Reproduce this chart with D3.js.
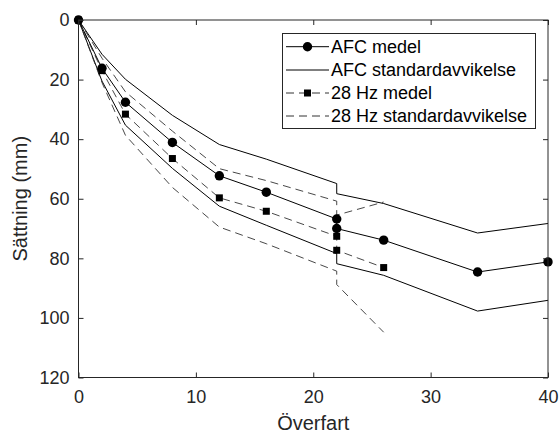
<!DOCTYPE html>
<html><head><meta charset="utf-8">
<script src="https://cdnjs.cloudflare.com/ajax/libs/d3/7.8.5/d3.min.js"></script>
<style>body{margin:0;background:#fff;}svg{display:block;}</style>
</head><body>
<svg id="c" width="560" height="434"></svg>
<script>
// AFC series
const afcX      = [0, 2, 4, 8, 12, 16, 22, 22, 26, 34, 40];
const afcMean   = [0, 16.2, 27.6, 41.1, 52.3, 57.8, 66.8, 70.0, 73.9, 84.6, 81.2];
const afcUpper  = [0, 11.5, 19.9, 32.0, 41.8, 46.7, 54.9, 58.3, 61.6, 71.5, 68.3];
const afcLower  = [0, 20.5, 35.3, 49.8, 62.5, 68.9, 78.4, 81.8, 85.7, 97.7, 94.1];
// 28 Hz series
const hzX       = [0, 2, 4, 8, 12, 16, 22, 22, 26];
const hzMean    = [0, 17.0, 31.6, 46.5, 59.7, 64.2, 72.6, 77.3, 83.1];
const hzUpper   = [0, 12.8, 24.1, 37.3, 49.9, 53.9, 60.8, 65.5, 61.1];
const hzLower   = [0, 21.0, 38.7, 56.2, 69.5, 75.1, 84.3, 88.8, 104.8];
const xTicks = [0, 10, 20, 30, 40];
const yTicks = [0, 20, 40, 60, 80, 100, 120];
const legendLabels = ["AFC medel", "AFC standardavvikelse", "28 Hz medel", "28 Hz standardavvikelse"];

const svg = d3.select("#c");
const L = 78.5, R = 548, T = 20, B = 377.5;
const x = d3.scaleLinear().domain([0, 40]).range([L, R]);
const y = d3.scaleLinear().domain([0, 120]).range([T, B]);
const axisCol = "#262626";
const font = "'Liberation Sans', Arial, Helvetica, sans-serif";

svg.append("clipPath").attr("id", "clip").append("rect")
  .attr("x", L).attr("y", T).attr("width", R - L).attr("height", B - T);

const pts = (xs, ys) => xs.map((d, i) => [d, ys[i]]);
const line = d3.line().x(d => x(d[0])).y(d => y(d[1]));
const dash = "8,5";

const g = svg.append("g").attr("clip-path", "url(#clip)");
function drawLine(xs, ys, dashed) {
  g.append("path").attr("d", line(pts(xs, ys))).attr("fill", "none")
    .attr("stroke", dashed ? "#333" : "#000").attr("stroke-width", dashed ? 0.9 : 1)
    .attr("stroke-dasharray", dashed ? dash : null);
}
drawLine(afcX, afcUpper, false);
drawLine(afcX, afcLower, false);
drawLine(hzX, hzUpper, true);
drawLine(hzX, hzLower, true);
drawLine(hzX, hzMean, true);
drawLine(afcX, afcMean, false);

svg.append("g").selectAll("rect").data(pts(hzX, hzMean)).join("rect")
  .attr("x", d => x(d[0]) - 3.5).attr("y", d => y(d[1]) - 3.5)
  .attr("width", 7).attr("height", 7).attr("fill", "#000");
svg.append("g").selectAll("circle").data(pts(afcX, afcMean)).join("circle")
  .attr("cx", d => x(d[0])).attr("cy", d => y(d[1])).attr("r", 4.7).attr("fill", "#000");

// axes box
svg.append("rect").attr("x", L).attr("y", T).attr("width", R - L).attr("height", B - T)
  .attr("fill", "none").attr("stroke", axisCol).attr("stroke-width", 1);

const tl = 5;
const axB = svg.append("g").attr("transform", `translate(0,${B})`)
  .call(d3.axisBottom(x).tickValues(xTicks).tickSize(-tl).tickPadding(13).tickFormat(d3.format("d")));
const axT = svg.append("g").attr("transform", `translate(0,${T})`)
  .call(d3.axisTop(x).tickValues(xTicks).tickSize(-tl).tickFormat(""));
const axL = svg.append("g").attr("transform", `translate(${L},0)`)
  .call(d3.axisLeft(y).tickValues(yTicks).tickSize(-tl).tickPadding(9).tickFormat(d3.format("d")));
const axR = svg.append("g").attr("transform", `translate(${R},0)`)
  .call(d3.axisRight(y).tickValues(yTicks).tickSize(-tl).tickFormat(""));
[axB, axT, axL, axR].forEach(a => {
  a.select(".domain").remove();
  a.selectAll("line").attr("stroke", axisCol);
  a.selectAll("text").attr("fill", axisCol).style("font-family", font).style("font-size", "18px");
});

svg.append("text").attr("x", (L + R) / 2).attr("y", 430).attr("text-anchor", "middle")
  .attr("fill", axisCol).style("font-family", font).style("font-size", "20px").text("Överfart");
svg.append("text").attr("transform", `translate(26.5,${(T + B) / 2}) rotate(-90)`)
  .attr("text-anchor", "middle").attr("fill", axisCol)
  .style("font-family", font).style("font-size", "20px").text("Sättning (mm)");

// legend
const lg = svg.append("g");
lg.append("rect").attr("x", 282.5).attr("y", 33.5).attr("width", 253).attr("height", 95)
  .attr("fill", "#fff").attr("stroke", axisCol).attr("stroke-width", 1);
const rowY = [46.7, 70, 93, 116];
const lx0 = 286, lx1 = 329, lxm = 307.5;
legendLabels.forEach((lab, i) => {
  const yy = rowY[i];
  lg.append("line").attr("x1", lx0).attr("x2", lx1).attr("y1", yy).attr("y2", yy)
    .attr("stroke", i >= 2 ? "#333" : "#000").attr("stroke-width", 1)
    .attr("stroke-dasharray", i >= 2 ? "8,5" : null);
  if (i === 0) lg.append("circle").attr("cx", lxm).attr("cy", yy).attr("r", 4.7).attr("fill", "#000");
  if (i === 2) lg.append("rect").attr("x", lxm - 3.5).attr("y", yy - 3.5).attr("width", 7).attr("height", 7).attr("fill", "#000");
  lg.append("text").attr("x", 331).attr("y", yy).attr("dy", "0.35em")
    .attr("fill", "#000").style("font-family", font).style("font-size", "18px").text(lab);
});
</script>
</body></html>
